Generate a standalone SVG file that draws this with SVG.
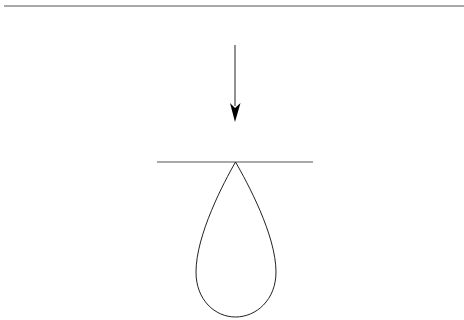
<svg xmlns="http://www.w3.org/2000/svg" width="464" height="320" viewBox="0 0 464 320">
<style>
.ln{stroke:#555;stroke-width:1.2;fill:none}
.dk{stroke:#222;stroke-width:1;fill:none}
.hd{fill:#000}
</style>
<rect width="464" height="320" fill="#fff"/>
<g id="topline"><line class="ln" x1="4" y1="6" x2="464" y2="6"/></g>
<g id="connectors">
<line class="dk" x1="235" y1="45" x2="235" y2="106"/>
<path class="hd" d="M230,103 L235,122 L240.5,103 L235,108 Z"/>
</g>
<g id="bar"><line class="ln" x1="157" y1="162" x2="313" y2="162"/></g>
<g id="drop"><path class="dk" d="M235.5,162 C224,182 196,235 196,272 C196,300 215,317 235.5,317 C256,317 276,300 276,272 C276,235 247,182 235.5,162 Z"/></g>
</svg>
